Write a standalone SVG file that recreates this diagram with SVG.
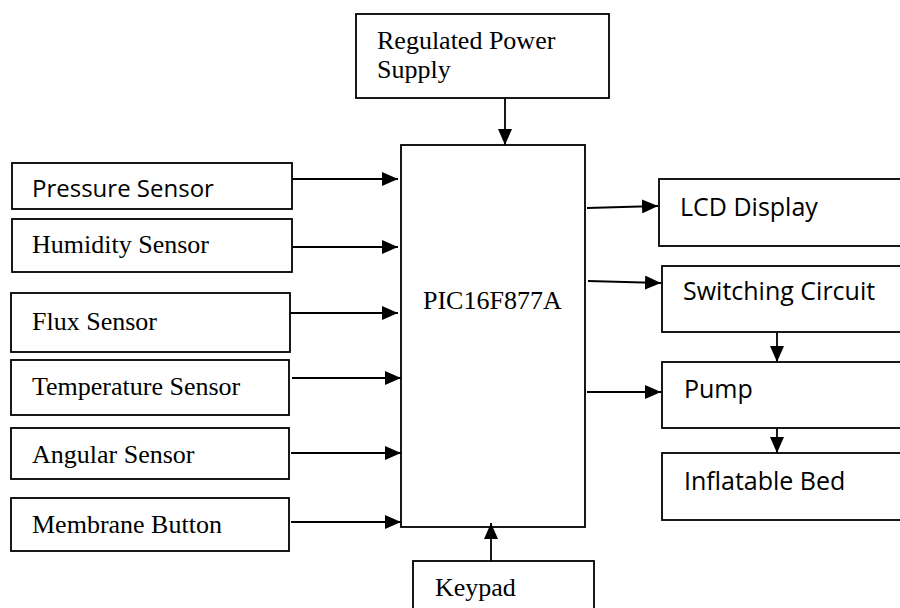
<svg xmlns="http://www.w3.org/2000/svg" width="900" height="608" viewBox="0 0 900 608">
<style>
rect{fill:#fff;stroke:#000;stroke-width:1.8}
.s{font-family:"Liberation Serif","Times New Roman",serif;font-size:26px;fill:#000}
.a{font-family:"Open Sans","Liberation Sans",sans-serif;font-size:24px;fill:#000}
.r{font-size:25px}
.c line{stroke:#000;stroke-width:1.8;marker-end:url(#ah)}
</style>
<defs>
<marker id="ah" markerUnits="userSpaceOnUse" markerWidth="16" markerHeight="14" refX="16" refY="7" orient="auto">
<path d="M0,0 L16,7 L0,14 z" fill="#000"/>
</marker>
</defs>
<rect x="0" y="0" width="900" height="608" style="stroke:none"/>
<g id="power"><rect x="356" y="14" width="253" height="84"/><text class="s" x="377" y="49">Regulated Power</text><text class="s" x="377" y="78">Supply</text></g>
<g id="pic"><rect x="401" y="145" width="184" height="382"/><text class="s" x="423" y="309">PIC16F877A</text></g>
<g id="pressure"><rect x="12" y="163" width="280" height="46"/><text class="a" x="32" y="197">Pressure Sensor</text></g>
<g id="humidity"><rect x="12" y="219" width="280" height="53"/><text class="s" x="32" y="253">Humidity Sensor</text></g>
<g id="flux"><rect x="11" y="293" width="279" height="59"/><text class="s" x="32" y="330">Flux Sensor</text></g>
<g id="temperature"><rect x="11" y="360" width="278" height="55"/><text class="s" x="32" y="395">Temperature Sensor</text></g>
<g id="angular"><rect x="11" y="428" width="278" height="51"/><text class="s" x="32" y="463">Angular Sensor</text></g>
<g id="membrane"><rect x="11" y="498" width="278" height="53"/><text class="s" x="32" y="533">Membrane Button</text></g>
<g id="keypad"><rect x="413" y="561" width="181" height="60"/><text class="s" x="435" y="596">Keypad</text></g>
<g id="lcd"><rect x="659" y="179" width="260" height="67"/><text class="a r" x="680" y="216">LCD Display</text></g>
<g id="switching"><rect x="662" y="266" width="260" height="66"/><text class="a r" x="683" y="300">Switching Circuit</text></g>
<g id="pump"><rect x="662" y="362" width="260" height="66"/><text class="a r" x="684" y="398">Pump</text></g>
<g id="bed"><rect x="662" y="453" width="260" height="67"/><text class="a r" x="684" y="490">Inflatable Bed</text></g>
<g class="c" id="connectors">
<line x1="505" y1="98" x2="505" y2="145"/>
<line x1="292" y1="179" x2="398" y2="179"/>
<line x1="292" y1="247" x2="398" y2="247"/>
<line x1="290" y1="313" x2="398" y2="313"/>
<line x1="292" y1="378" x2="401" y2="378"/>
<line x1="291" y1="453" x2="401" y2="453"/>
<line x1="291" y1="522" x2="401" y2="522"/>
<line x1="491" y1="561" x2="491" y2="523"/>
<line x1="587" y1="208" x2="658" y2="206"/>
<line x1="588" y1="281" x2="661" y2="283"/>
<line x1="587" y1="392" x2="661" y2="392"/>
<line x1="777" y1="332" x2="777" y2="362"/>
<line x1="777" y1="428" x2="777" y2="453"/>
</g>
</svg>
